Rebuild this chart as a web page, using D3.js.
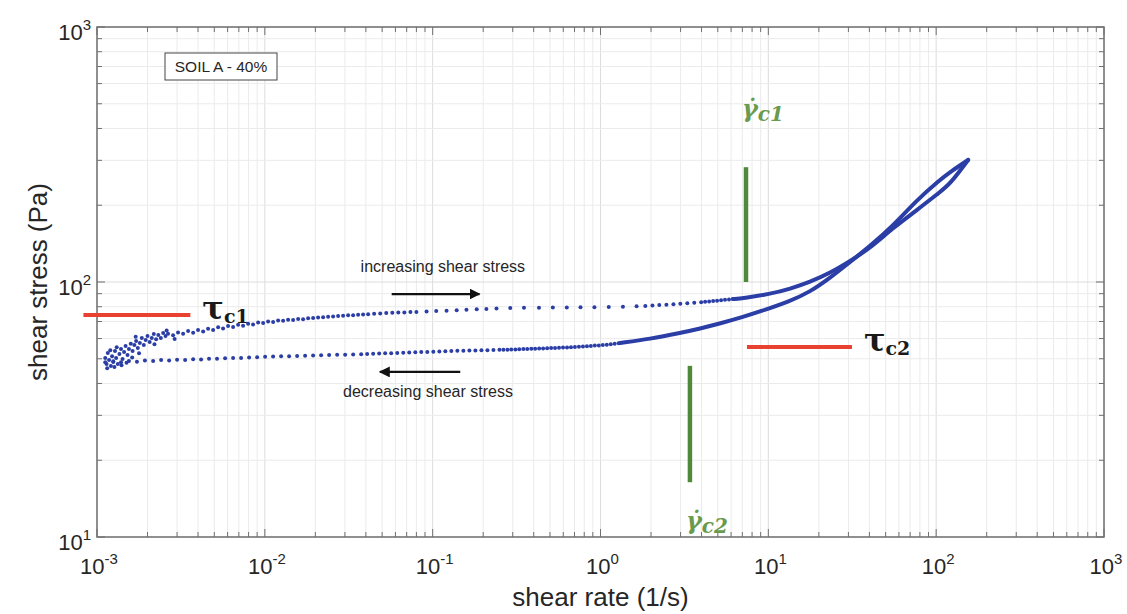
<!DOCTYPE html>
<html lang="en">
<head>
  <meta charset="UTF-8">
  <title>Shear stress vs shear rate</title>
  <script src="https://cdn.jsdelivr.net/npm/d3@7"></script>
  <style>
  body { margin: 0; background: #fff; }
  svg text { font-family: "Liberation Sans", Arial, Helvetica, sans-serif; }
  .tick-label { fill: #262626; font-size: 22px; }
  .axis-title { fill: #262626; font-size: 26px; }
  .note { fill: #262626; font-size: 16px; }
  .crit { font-family: "DejaVu Serif", "Liberation Serif", serif; font-weight: bold; }
  </style>
</head>
<body>
<svg id="chart" width="1127" height="614"></svg>
<script>
// axis setup
const xDomain = [1e-3, 1e3];
const yDomain = [10, 1000];
const xExponents = [-3, -2, -1, 0, 1, 2, 3];
const yExponents = [1, 2, 3];

// increasing shear stress branch, scattered points [shear rate, shear stress]
const incPoints = [
  [1.12e-3,50.3],[1.14e-3,47.7],[1.16e-3,52.7],[1.18e-3,49.4],[1.21e-3,46.8],[1.23e-3,51.2],
  [1.25e-3,48.6],[1.28e-3,53.6],[1.30e-3,50.3],[1.33e-3,47.7],[1.36e-3,52.2],[1.39e-3,54.6],
  [1.42e-3,49.9],[1.45e-3,53.1],[1.48e-3,56.1],[1.52e-3,51.7],[1.55e-3,54.6],[1.59e-3,57.2],
  [1.63e-3,53.6],[1.67e-3,56.6],[1.71e-3,58.7],[1.75e-3,55.1],[1.80e-3,57.7],[1.85e-3,60.3],
  [1.90e-3,56.6],[1.95e-3,59.2],[2.00e-3,61.4],[2.06e-3,58.2],[2.12e-3,60.3],[2.18e-3,62.5],
  [2.25e-3,59.7],[2.32e-3,61.9],[2.40e-3,60.3],[2.48e-3,63.1],[2.56e-3,61.4],
  [1.15e-3,45.9],[1.27e-3,46.4],[1.40e-3,47.2],[1.50e-3,48.2],[1.62e-3,50.6],[1.78e-3,52.5],
  [1.31e-3,55.5],[1.20e-3,54.0],[2.20e-3,57.0],[2.90e-3,59.8],[1.70e-3,61.0],[2.6e-3,64.5],
  [2.65e-3,62.7],[2.84e-3,61.8],[3.04e-3,63.4],[3.26e-3,62.6],[3.49e-3,64.3],[3.74e-3,63.2],
  [4.00e-3,64.8],[4.29e-3,64.0],[4.59e-3,65.6],[4.92e-3,64.9],[5.27e-3,66.4],[5.64e-3,65.7],
  [6.04e-3,67.2],[6.47e-3,66.6],[6.93e-3,67.9],[7.42e-3,67.4],[7.95e-3,68.6],[8.51e-3,68.2],
  [9.12e-3,69.3],[9.77e-3,69.0],[0.01046,70.0],[0.0112,69.7],[0.012,70.6],[0.01285,70.4],
  [0.01376,71.1],[0.01474,71.0],[0.01579,71.6],[0.01691,71.5],[0.01811,72.1],[0.0194,72.2],
  [0.02077,72.6],[0.02225,72.7],[0.02383,73.1],[0.02552,73.2],[0.02733,73.6],[0.02927,73.7],
  [0.03135,74.0],[0.03358,74.1],[0.03596,74.4],[0.03851,74.5],[0.04125,74.8],
  [0.0448,75.0],[0.0487,75.3],[0.0529,75.5],[0.0575,75.7],[0.0624,75.9],[0.0678,76.0],
  [0.0737,76.2],[0.080,76.3],
  [0.092,76.6],[0.105,76.9],[0.121,77.2],[0.139,77.5],[0.159,77.8],[0.183,78.1],[0.209,78.4],[0.24,78.7],
  [0.29,79.1],[0.35,79.2],[0.43,79.3],[0.52,79.4],[0.63,79.5],[0.76,79.6],[0.92,79.7],[1.12,79.8],
  [1.36,80.0],[1.64,80.3],
  [1.85,80.6],[2.04,80.9],[2.24,81.2],[2.47,81.5],[2.72,81.8],[2.99,82.1],[3.29,82.5],[3.62,82.9],[3.98,83.3],
  [4.2,83.6],[4.44,83.9],[4.69,84.2],[4.95,84.5],[5.23,84.8],[5.52,85.1],[5.83,85.4],[6.16,85.7]
];
// increasing branch where the points merge into a solid band
const incCurve = [
  [6.16,85.7],[7.06,86.3],[10.2,89.7],[13.5,94.0],[17.7,100],[23.3,108.4],[30.7,120.8],
  [40.4,135.8],[55.3,163],[76.9,191.5],[105,225],[121,242],[155,301]
];

// decreasing shear stress branch
const decPoints = [
  [1.12e-3,48.4],[1.25e-3,48.9],[1.39e-3,48.5],[1.55e-3,49.0],[1.73e-3,48.7],[1.93e-3,49.2],
  [2.16e-3,49.0],[2.41e-3,49.4],[2.69e-3,49.2],[3.0e-3,49.6],[3.35e-3,49.5],[3.74e-3,49.8],
  [4.17e-3,49.7],[4.65e-3,50.0],[5.19e-3,50.0],[5.8e-3,50.2],[6.47e-3,50.3],[7.22e-3,50.4],
  [8.06e-3,50.6],[9.0e-3,50.7],[0.01004,50.9],[0.0112,51.0],[0.0125,51.1],[0.01395,51.2],
  [0.01557,51.3],[0.01738,51.4],[0.0194,51.5],[0.02165,51.6],[0.02416,51.7],[0.02697,51.8],
  [0.0301,51.9],[0.0336,52.0],[0.0375,52.1],
  [0.0407,52.2],[0.0442,52.3],[0.048,52.4],[0.0521,52.5],[0.0566,52.6],[0.0615,52.7],
  [0.0668,52.8],[0.0725,52.9],[0.0788,53.0],[0.0855,53.1],[0.0929,53.2],[0.1009,53.3],
  [0.1096,53.4],[0.119,53.5],[0.1292,53.6],[0.1403,53.7],[0.1524,53.8],[0.1655,53.85],
  [0.1797,53.9],[0.1952,54.0],[0.212,54.05],[0.2302,54.1],[0.25,54.2],
  [0.264,54.25],[0.279,54.3],[0.294,54.35],[0.311,54.4],[0.328,54.5],[0.347,54.55],
  [0.366,54.6],[0.387,54.7],[0.408,54.75],[0.431,54.8],[0.455,54.9],[0.481,55.0],
  [0.508,55.05],[0.536,55.1],[0.566,55.2],[0.598,55.3],[0.632,55.4],[0.667,55.5],
  [0.704,55.6],[0.744,55.7],[0.786,55.85],[0.83,56.0],[0.876,56.1],[0.925,56.3],
  [0.977,56.4],[1.032,56.6],[1.09,56.8],[1.151,57.0],[1.215,57.2],[1.283,57.5]
];
const decCurve = [
  [155,301],[121,270],[105,251],[76.9,210],[55.3,166],[40.4,138.4],[30.7,119.8],[23.3,103.7],
  [17.7,91.4],[13.5,84.2],[8.91,76.6],[7.06,72.9],[5.15,68.7],[3.92,65.7],[2.98,63.1],
  [1.97,59.8],[1.31,57.7]
];

// critical stresses (red) and critical shear rates (green)
const tauLines = [
  { name: 'c1', stress: 74.3, from: 8.3e-4, to: 3.6e-3 },
  { name: 'c2', stress: 55.6, from: 7.46, to: 31.5 }
];
const gammaLines = [
  { name: 'c1', rate: 7.36, from: 100, to: 282 },
  { name: 'c2', rate: 3.41, from: 16.4, to: 46.9 }
];
const arrows = [
  { label: 'increasing shear stress', from: 0.057, to: 0.19, stress: 89.7, labelRate: 0.115, labelStress: 109.4 },
  { label: 'decreasing shear stress', from: 0.146, to: 0.0485, stress: 44.4, labelRate: 0.0938, labelStress: 35.4 }
];

const svg = d3.select('#chart');
const plot = { left: 97, right: 1104, top: 27, bottom: 537 };

const x = d3.scaleLog().domain(xDomain).range([plot.left, plot.right]);
const y = d3.scaleLog().domain(yDomain).range([plot.bottom, plot.top]);

const xTicks = x.ticks();
const yTicks = y.ticks();
const isMajor = v => Math.abs(Math.log10(v) - Math.round(Math.log10(v))) < 1e-9;

// grid
const grid = svg.append('g');
grid.selectAll('.gx').data(xTicks).enter().append('line')
  .attr('x1', d => x(d)).attr('x2', d => x(d))
  .attr('y1', plot.top).attr('y2', plot.bottom)
  .attr('stroke', d => isMajor(d) ? '#dcdcdc' : '#ebebeb').attr('stroke-width', 1);
grid.selectAll('.gy').data(yTicks).enter().append('line')
  .attr('y1', d => y(d)).attr('y2', d => y(d))
  .attr('x1', plot.left).attr('x2', plot.right)
  .attr('stroke', d => isMajor(d) ? '#dcdcdc' : '#ebebeb').attr('stroke-width', 1);

// data: dense part as thick lines, sparse part as dots
const blue = '#2b3ea6';
const line = d3.line().x(d => x(d[0])).y(d => y(d[1])).curve(d3.curveBasis);
[incCurve, decCurve].forEach(c => {
  svg.append('path').datum(c).attr('d', line)
    .attr('fill', 'none').attr('stroke', blue).attr('stroke-width', 4)
    .attr('stroke-linecap', 'round').attr('stroke-linejoin', 'round');
});
svg.append('g').selectAll('circle').data(incPoints.concat(decPoints)).enter().append('circle')
  .attr('cx', d => x(d[0])).attr('cy', d => y(d[1])).attr('r', 2)
  .attr('fill', blue);

// box + ticks (MATLAB style, inward on all sides)
const axisColor = '#707070';
const ticks = svg.append('g').attr('stroke', axisColor).attr('stroke-width', 1);
xTicks.forEach(v => {
  const len = isMajor(v) ? 8 : 5;
  ticks.append('line').attr('x1', x(v)).attr('x2', x(v)).attr('y1', plot.bottom).attr('y2', plot.bottom - len);
  ticks.append('line').attr('x1', x(v)).attr('x2', x(v)).attr('y1', plot.top).attr('y2', plot.top + len);
});
yTicks.forEach(v => {
  const len = isMajor(v) ? 8 : 5;
  ticks.append('line').attr('y1', y(v)).attr('y2', y(v)).attr('x1', plot.left).attr('x2', plot.left + len);
  ticks.append('line').attr('y1', y(v)).attr('y2', y(v)).attr('x1', plot.right).attr('x2', plot.right - len);
});
svg.append('rect')
  .attr('x', plot.left).attr('y', plot.top)
  .attr('width', plot.right - plot.left).attr('height', plot.bottom - plot.top)
  .attr('fill', 'none').attr('stroke', axisColor).attr('stroke-width', 1.5);

// tick labels 10^n
const powerLabel = (sel, e) => {
  sel.append('tspan').text('10');
  sel.append('tspan').attr('dy', -10).attr('font-size', 15).text(e);
};
xExponents.forEach(e => {
  svg.append('text').attr('class', 'tick-label')
    .attr('x', x(Math.pow(10, e)) + 2).attr('y', plot.bottom + 37)
    .attr('text-anchor', 'middle')
    .call(powerLabel, e);
});
yExponents.forEach(e => {
  svg.append('text').attr('class', 'tick-label')
    .attr('x', plot.left - 6).attr('y', y(Math.pow(10, e)) + 13)
    .attr('text-anchor', 'end')
    .call(powerLabel, e);
});

// axis titles
svg.append('text').attr('class', 'axis-title')
  .attr('x', (plot.left + plot.right) / 2).attr('y', 606)
  .attr('text-anchor', 'middle').text('shear rate (1/s)');
svg.append('text').attr('class', 'axis-title')
  .attr('transform', `translate(47,${(plot.top + plot.bottom) / 2}) rotate(-90)`)
  .attr('text-anchor', 'middle').text('shear stress (Pa)');

// sample label box
svg.append('rect').attr('x', 165).attr('y', 53).attr('width', 112).attr('height', 27)
  .attr('fill', '#fff').attr('stroke', '#444').attr('stroke-width', 1);
svg.append('text').attr('x', 221).attr('y', 72).attr('text-anchor', 'middle')
  .attr('font-size', 15.5).attr('fill', '#262626').text('SOIL A - 40%');

// arrows with labels
svg.append('defs').append('marker')
  .attr('id', 'head').attr('viewBox', '0 0 10 10').attr('refX', 9).attr('refY', 5)
  .attr('markerWidth', 5).attr('markerHeight', 5).attr('markerUnits', 'strokeWidth')
  .attr('orient', 'auto')
  .append('path').attr('d', 'M0,0L10,5L0,10z').attr('fill', '#111');
arrows.forEach(a => {
  svg.append('line')
    .attr('x1', x(a.from)).attr('x2', x(a.to))
    .attr('y1', y(a.stress)).attr('y2', y(a.stress))
    .attr('stroke', '#111').attr('stroke-width', 2.2).attr('marker-end', 'url(#head)');
  svg.append('text').attr('class', 'note')
    .attr('x', x(a.labelRate)).attr('y', y(a.labelStress))
    .attr('text-anchor', 'middle').text(a.label);
});

// critical stress markers
const red = '#e8412f';
tauLines.forEach(t => {
  svg.append('line')
    .attr('x1', x(t.from)).attr('x2', x(t.to))
    .attr('y1', y(t.stress)).attr('y2', y(t.stress))
    .attr('stroke', red).attr('stroke-width', 4);
  const lab = svg.append('text').attr('class', 'crit').attr('fill', '#1a1a1a')
    .attr('x', x(t.to) + 12).attr('y', y(t.stress) + 4);
  lab.append('tspan').attr('font-size', 32).text('τ');
  lab.append('tspan').attr('font-size', 19).attr('dy', 4).text(t.name);
});

// critical shear rate markers
const green = '#4e8a3a';
gammaLines.forEach((g, i) => {
  svg.append('line')
    .attr('x1', x(g.rate)).attr('x2', x(g.rate))
    .attr('y1', y(g.from)).attr('y2', y(g.to))
    .attr('stroke', green).attr('stroke-width', 4.5);
  const ly = i === 0 ? y(g.to) - 50 : y(g.from) + 47;
  const lab = svg.append('text').attr('class', 'crit').attr('fill', '#6a9a4e')
    .attr('font-style', 'italic')
    .attr('x', x(g.rate) - 4).attr('y', ly);
  lab.append('tspan').attr('font-size', 24).text('γ\u0307');
  lab.append('tspan').attr('font-size', 20).attr('dy', 4).text(g.name);
});
</script>
</body>
</html>
